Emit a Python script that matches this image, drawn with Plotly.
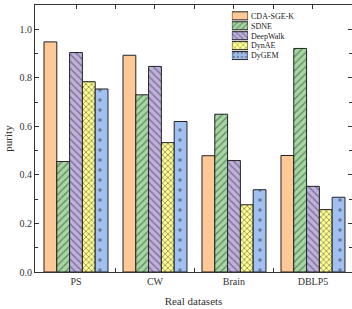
import plotly.graph_objects as go

datasets = ["PS", "CW", "Brain", "DBLP5"]
methods = ["CDA-SGE-K", "SDNE", "DeepWalk", "DynAE", "DyGEM"]
cda_sge_k = [0.948, 0.893, 0.479, 0.480]
sdne = [0.455, 0.730, 0.650, 0.921]
deepwalk = [0.904, 0.847, 0.459, 0.353]
dynae = [0.784, 0.533, 0.277, 0.257]
dygem = [0.754, 0.620, 0.339, 0.308]
series = [cda_sge_k, sdne, deepwalk, dynae, dygem]

colors = ["#FEC996", "#A3D8A0", "#BFB0E0", "#FFFF90", "#A0C0F2"]
shapes = ["", "/", "\\", "x", "."]
psizes = [6, 5, 5, 4, 10]
psolid = [0.3, 0.28, 0.28, 0.4, 0.1]

serif = "Liberation Serif"
fig = go.Figure()
for name, vals, c, sh, ps, so in zip(methods, series, colors, shapes, psizes, psolid):
    fig.add_trace(go.Bar(
        x=list(range(len(datasets))), y=vals, name=name, showlegend=False,
        marker=dict(color=c, line=dict(color="#222", width=1),
                    pattern=dict(shape=sh, fgcolor="#333", size=ps, solidity=so)),
    ))

# legend drawn as a tiny bar chart on its own axes
fig.add_trace(go.Bar(
    y=methods, x=[1] * len(methods), orientation="h", xaxis="x2", yaxis="y2",
    showlegend=False, hoverinfo="skip",
    marker=dict(color=colors, line=dict(color="#222", width=1),
                pattern=dict(shape=shapes, fgcolor="#333", size=4, solidity=0.3)),
))

fig.update_layout(
    width=352, height=309,
    margin=dict(l=35, r=0, t=5, b=37),
    paper_bgcolor="white", plot_bgcolor="white",
    barmode="group", bargap=0.19, bargroupgap=0,
    font=dict(family=serif, size=10, color="#333"),
    xaxis=dict(
        range=[-0.519, 3.494], tickmode="array", tickvals=list(range(len(datasets))),
        ticktext=datasets, ticks="inside", ticklen=4, tickcolor="#333",
        minor=dict(ticks="inside", ticklen=4, tickvals=[0.5, 1.5, 2.5], tickcolor="#333"),
        showline=True, linecolor="#333", linewidth=1, mirror="ticks",
        showgrid=False, zeroline=False, layer="below traces", automargin=False,
        title=dict(text="Real datasets", font=dict(size=11, family=serif), standoff=11),
        tickfont=dict(size=10, family=serif),
    ),
    yaxis=dict(
        range=[0, 1.1], dtick=0.2, tickformat=".1f", ticks="inside", ticklen=4,
        tickcolor="#333",
        minor=dict(ticks="inside", ticklen=3, dtick=0.1, tickcolor="#333"),
        showline=True, linecolor="#333", linewidth=1, mirror="ticks",
        showgrid=False, zeroline=False, automargin=False,
        title=dict(text="purity", font=dict(size=11, family=serif), standoff=4),
        tickfont=dict(size=10, family=serif),
    ),
    xaxis2=dict(domain=[0.621, 0.672], range=[0, 1], anchor="y2", visible=False,
                fixedrange=True, automargin=False),
    yaxis2=dict(domain=[0.792, 0.978], anchor="x2", side="right",
                autorange="reversed", showline=False, showgrid=False, ticks="",
                tickmode="array", tickvals=methods, ticktext=methods,
                ticklabelstandoff=2, zeroline=False, automargin=False,
                tickfont=dict(size=8, family=serif, color="#222")),
)

fig.write_html("out.html", config={"displayModeBar": False},
               post_script="document.body.style.margin='0px';")
